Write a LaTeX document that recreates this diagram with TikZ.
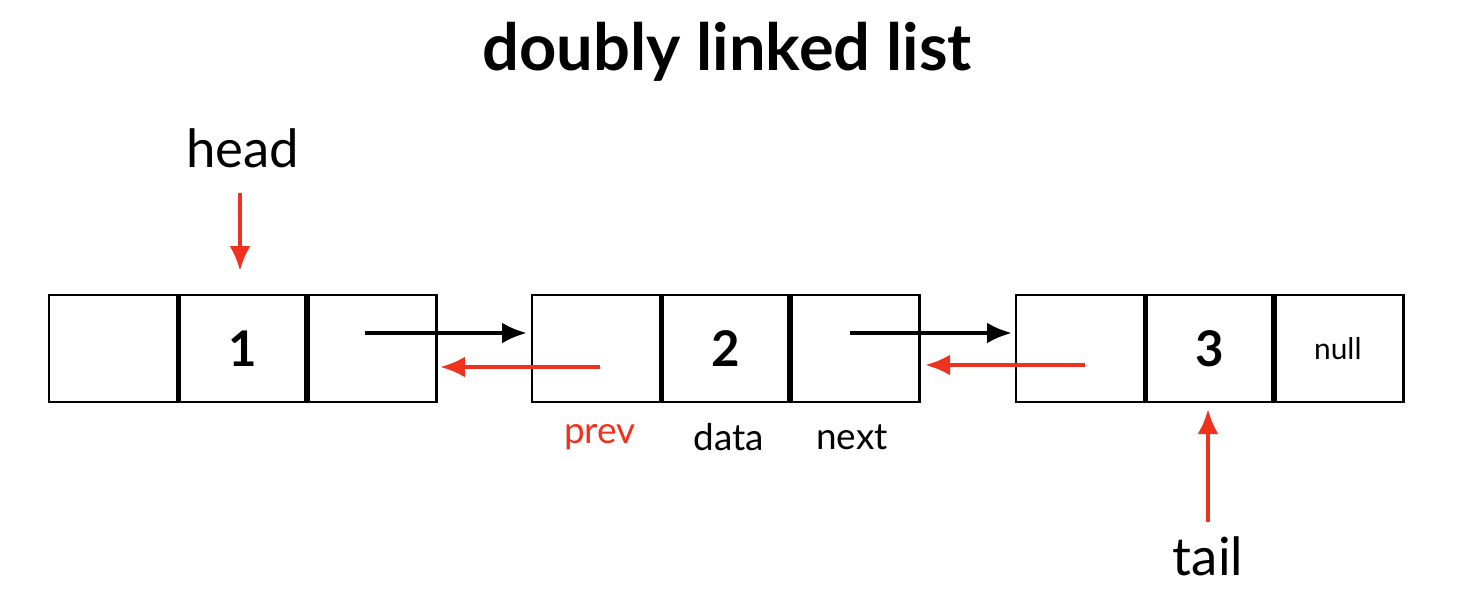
\documentclass[tikz,border=0pt]{standalone}
\usepackage{fontspec}
\setmainfont{Lato}
\usetikzlibrary{positioning,arrows.meta}
\definecolor{ptr}{RGB}{238,50,30}
\begin{document}
\begin{tikzpicture}[x=0.02cm, y=-0.02cm,
  cell/.style={draw, line width=1.6pt, minimum width=2.62cm, minimum height=2.14cm, inner sep=0pt, outer sep=0pt, font=\fontsize{28}{30}\selectfont\bfseries},
  lbl/.style={font=\fontsize{21}{24}\selectfont},
  big/.style={font=\fontsize{30}{32}\selectfont},
  link/.style={-{Latex[length=5mm,width=4.2mm]}, line width=2.4pt}]
\useasboundingbox (0,0) rectangle (1470,603);
\node at (727,52) {\fontsize{37}{40}\selectfont\bfseries doubly linked list};
% list nodes
\foreach \n/\x/\v in {a/49/1, b/532/2, c/1016/3}
{
    \node[cell, anchor=north west] (\n p) at (\x,295) {};
    \node[cell, right=-1.6pt of \n p] (\n d) {\v};
    \node[cell, right=-1.6pt of \n d] (\n n) {};
}
\node[font=\fontsize{17}{19}\selectfont] at (cn) {null};
% pointers
\coordinate (an1) at (365,333); \coordinate (bp1) at (527,333);
\coordinate (bp2) at (600,367); \coordinate (an2) at (440,367);
\coordinate (bn1) at (850,333); \coordinate (cp1) at (1012,333);
\coordinate (cp2) at (1085,365); \coordinate (bn2) at (925,365);
\draw[link] (an1)--(bp1);
\draw[link, ptr] (bp2)--(an2);
\draw[link] (bn1)--(cp1);
\draw[link, ptr] (cp2)--(bn2);
% labels
\node[big] (head) at (243,148) {head};
\node[big] (tail) at (1208,556) {tail};
\draw[link, ptr] (240,193)--(240,271);
\draw[link, ptr] (1208,522)--(1208,409);
\node[lbl, ptr] at (600,437) {prev};
\node[lbl] at (729,437) {data};
\node[lbl] at (852,437) {next};
\end{tikzpicture}
\end{document}
